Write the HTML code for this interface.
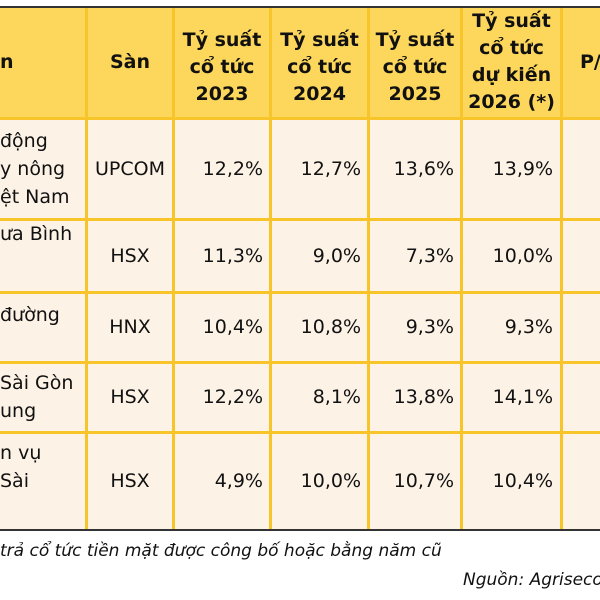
<!DOCTYPE html>
<html><head><meta charset="utf-8"><style>
body{margin:0;width:600px;height:600px;overflow:hidden;background:#fff;font-family:"DejaVu Sans","Liberation Sans",sans-serif;color:#111;position:relative}
.hdr{position:absolute;left:0;top:8px;width:600px;height:110px;background:#FDD75C}
.body{position:absolute;left:0;top:118px;width:600px;height:411px;background:#FCF2E6}
.vl{position:absolute;width:3px;background:#F7C52A}
.hl{position:absolute;left:0;width:600px;height:3px;background:#F7C52A}
.dk{position:absolute;left:0;width:600px;height:2px;background:#333}
.h{position:absolute;font-weight:bold;font-size:19px;line-height:27px;text-align:center}
.c{position:absolute;font-size:19px;line-height:28px;white-space:nowrap}
.note{position:absolute;font-style:italic;font-size:17px;white-space:nowrap}
</style></head><body>
<div class="hdr"></div>
<div class="body"></div>
<div class="dk" style="top:6px"></div>
<div class="dk" style="top:529px"></div>
<div class="hl" style="top:117px"></div>
<div class="hl" style="top:218px"></div>
<div class="hl" style="top:291px"></div>
<div class="hl" style="top:361px"></div>
<div class="hl" style="top:431px"></div>
<div class="vl" style="left:85px;top:8px;height:521px"></div>
<div class="vl" style="left:172px;top:8px;height:521px"></div>
<div class="vl" style="left:269px;top:8px;height:521px"></div>
<div class="vl" style="left:367px;top:8px;height:521px"></div>
<div class="vl" style="left:460px;top:8px;height:521px"></div>
<div class="vl" style="left:560px;top:8px;height:521px"></div>

<div class="h" style="left:0;top:49px;text-align:left">n</div>
<div class="h" style="left:88px;width:84px;top:49px">Sàn</div>
<div class="h" style="left:175px;width:94px;top:27px">Tỷ suất<br>cổ tức<br>2023</div>
<div class="h" style="left:272px;width:95px;top:27px">Tỷ suất<br>cổ tức<br>2024</div>
<div class="h" style="left:370px;width:90px;top:27px">Tỷ suất<br>cổ tức<br>2025</div>
<div class="h" style="left:463px;width:97px;top:8px">Tỷ suất<br>cổ tức<br>dự kiến<br>2026 (*)</div>
<div class="h" style="left:580px;top:49px;text-align:left">P/</div>

<div id="rows"></div>
<div class="note" style="left:0;top:541px">trả cổ tức tiền mặt được công bố hoặc bằng năm cũ</div>
<div class="note" style="left:463px;top:570px">Nguồn: Agriseco</div>
<script>
const names=[["động","y nông","ệt Nam"],["ưa Bình"],["đường"],["Sài Gòn","ung"],["n vụ","Sài",""]];
const exch=["UPCOM","HSX","HNX","HSX","HSX"];
const y2023=["12,2%","11,3%","10,4%","12,2%","4,9%"];
const y2024=["12,7%","9,0%","10,8%","8,1%","10,0%"];
const y2025=["13,6%","7,3%","9,3%","13,8%","10,7%"];
const y2026=["13,9%","10,0%","9,3%","14,1%","10,4%"];
const rowTop=[120,220,293,363,433], rowBot=[218,291,361,431,529];
const root=document.getElementById('rows');
function add(txt,l,w,top,align,name){
 const d=document.createElement('div');d.className='c';
 
 
 d.style.left=l+'px';d.style.width=w+'px';d.style.top=top+'px';d.style.textAlign=align;d.innerHTML=txt;root.appendChild(d);
}
for(let i=0;i<5;i++){
 const mid=(rowTop[i]+rowBot[i])/2;
 const nl=names[i].length;
 add(names[i].join('<br>'),0,84,mid-nl*14-(i==1?22:0)+(i==2?-12:0),'left','company-name');
 add(exch[i],88,84,mid-14,'center','exchange');
 add(y2023[i],175,88,mid-14,'right','yield-2023');
 add(y2024[i],272,89,mid-14,'right','yield-2024');
 add(y2025[i],370,84,mid-14,'right','yield-2025');
 add(y2026[i],463,90,mid-14,'right','yield-2026');
}
</script>
</body></html>
